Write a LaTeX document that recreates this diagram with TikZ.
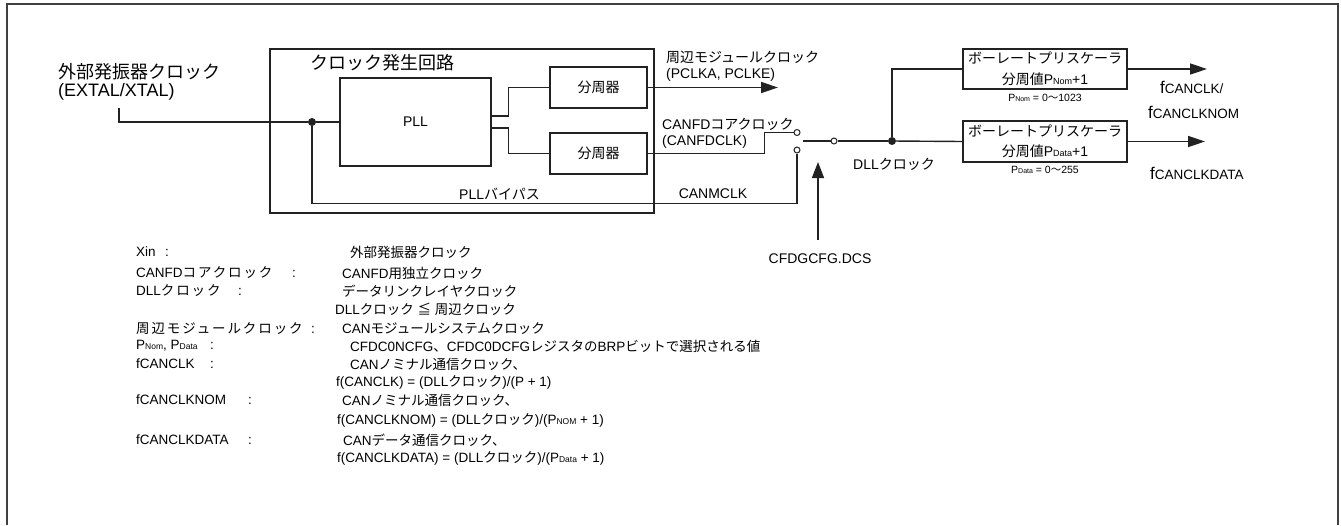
\documentclass[tikz,border=0pt]{standalone}
\usepackage{fontspec}
\setmainfont{Liberation Sans}
\newfontfamily\jpnormfont{Noto Sans CJK JP}
\newfontfamily\jpwidefont[LetterSpace=14]{Noto Sans CJK JP}
\newif\ifwidejp
\newcommand\jpfont{\ifwidejp\jpwidefont\else\jpnormfont\fi}
\usetikzlibrary{arrows.meta}
\makeatletter
\newXeTeXintercharclass\JPclass
\def\setjprange#1#2{\count@=#1\relax\loop\XeTeXcharclass\count@=\JPclass\relax\ifnum\count@<#2\advance\count@\@ne\repeat}
\setjprange{"3000}{"30FF}
\setjprange{"4E00}{"9FFF}
\setjprange{"FF00}{"FFEF}
\XeTeXcharclass"2266=\JPclass
\XeTeXinterchartoks 0 \JPclass={\jpfont}
\XeTeXinterchartoks 4095 \JPclass={\jpfont}
\XeTeXinterchartoks \JPclass 0={\rmfamily}
\XeTeXinterchartoks \JPclass 4095={\rmfamily}
\makeatother
\XeTeXinterchartokenstate=1
\definecolor{ln}{HTML}{222222}
\definecolor{frm}{HTML}{404040}
\newcommand\smtxt[2]{{\fontsize{#1}{#1}\selectfont #2}}
\tikzset{
  lbl/.style={inner sep=0pt, font=\fontsize{14}{16}\selectfont},
  big/.style={inner sep=0pt, anchor=west, font=\fontsize{18}{20}\selectfont},
  leg/.style={inner sep=0pt, anchor=west, font=\fontsize{13.5}{16}\selectfont},
  legk/.style={leg, font=\fontsize{13.5}{16}\selectfont\widejptrue},
  blk/.style={draw=ln, line width=1.4pt, inner sep=0pt},
  wire/.style={draw=ln, line width=1.4pt},
  arr/.style={wire, -{Triangle[length=17pt,width=11pt]}},
  dotn/.style={circle, fill=ln, inner sep=0pt, minimum size=8pt},
  contact/.style={circle, draw=ln, fill=white, line width=1pt, inner sep=0pt, minimum size=6pt},
  fbig/.style={inner sep=0pt, anchor=west},
}
\newcommand\fsub[1]{{\fontsize{17}{17}\selectfont f}{\fontsize{13.5}{14}\selectfont #1}}
\begin{document}
\begin{tikzpicture}[x=1pt,y=-1pt]
\useasboundingbox (0,0) rectangle (1341,525);
\draw[frm, line width=2pt] (7,525) -- (7,4) -- (1338,4) -- (1338,525);

% input label
\node[big] (ext1) at (58,72) {外部発振器クロック};
\node[big] (ext2) at (58,92) {(EXTAL/XTAL)};
\coordinate (extin) at (119,108);

% clock generator
\node[blk, minimum width=384pt, minimum height=164pt] (cg) at (462,131) {};
\node[big] (cgt) at (310,63) {クロック発生回路};
\node[blk, lbl, minimum width=151pt, minimum height=88pt] (pll) at (415.5,122) {PLL};
\node[blk, lbl, minimum width=97pt, minimum height=41pt] (div1) at (598.5,87.5) {分周器};
\node[blk, lbl, minimum width=97pt, minimum height=41pt] (div2) at (598.5,153.5) {分周器};
\node[dotn] (dot1) at (312,122) {};

\draw[wire] (extin) |- (dot1) -- (pll.west);
\draw[wire] ([yshift=6pt]pll.east) -| ([xshift=-41pt]div1.west) -- (div1.west);
\draw[wire] ([yshift=-6pt]pll.east) -| ([xshift=-41pt]div2.west) -- (div2.west);

% peripheral clock
\coordinate (pclkend) at (778,87.5);
\draw[arr] (div1.east) -- (pclkend);
\node[lbl, anchor=west] (pc1) at (666,57) {周辺モジュールクロック};
\node[lbl, anchor=west] (pc2) at (666,75) {(PCLKA, PCLKE)};

% switch
\node[contact] (sw1) at (797,132.5) {};
\node[contact] (sw2) at (797,150) {};
\node[contact] (sw3) at (834,141) {};
\coordinate (swc) at (803,141);
\node[dotn] (dot2) at (892,141) {};

\draw[wire] (div2.east) -| ([xshift=-29pt]sw1.west) -- (sw1.west);
\draw[wire] (dot1) |- ([yshift=-50pt]sw2.south) -- (sw2.south);
\draw[wire] (swc) -- (sw3.west);
\draw[wire] (sw3.east) -- (dot2);

\node[lbl, anchor=west] (cf1) at (662,124) {CANFDコアクロック};
\node[lbl, anchor=west] (cf2) at (662,142) {(CANFDCLK)};
\node[lbl, anchor=west] (byp) at (459,194) {PLLバイパス};
\node[lbl] (mclk) at (713,194) {CANMCLK};
\node[lbl, anchor=west] (dll) at (853,164) {DLLクロック};

% DCS select
\node[lbl] (dcs) at (820,259) {CFDGCFG.DCS};
\coordinate (dcsfoot) at (818,240);
\coordinate (dcstip) at (818,162);
\draw[wire, -{Triangle[length=16pt,width=12pt]}] (dcsfoot) -- (dcstip);

% baud rate prescalers
\node[blk, lbl, align=center, minimum width=164pt, minimum height=40pt, font=\fontsize{14}{21}\selectfont] (brp1) at (1045,69)
  {ボーレートプリスケーラ\\分周値P\smtxt{9}{Nom}+1};
\node[blk, lbl, align=center, minimum width=164pt, minimum height=41pt, font=\fontsize{14}{19.5}\selectfont] (brp2) at (1045,141.5)
  {ボーレートプリスケーラ\\分周値P\smtxt{9}{Data}+1};
\node[inner sep=0pt, font=\fontsize{10.5}{12}\selectfont] (pn) at (1045,98) {P\smtxt{7}{Nom} = 0〜1023};
\node[inner sep=0pt, font=\fontsize{10.5}{12}\selectfont] (pd) at (1045,170) {P\smtxt{7}{Data} = 0〜255};

\draw[wire] (dot2) -- (brp2.west);
\draw[wire] (dot2) |- (brp1.west);
\coordinate (o1) at (1207,69);
\coordinate (o2) at (1205,141.5);
\draw[arr] (brp1.east) -- (o1);
\draw[arr] (brp2.east) -- (o2);

\node[fbig] (f1) at (1160,87) {\fsub{CANCLK/}};
\node[fbig] (f2) at (1148,112) {\fsub{CANCLKNOM}};
\node[fbig] (f3) at (1150,173) {\fsub{CANCLKDATA}};

% legend
\node[legk] (k1) at (136,252) {\makebox[29pt][l]{Xin}:};
\node[legk] (k2) at (136,273) {\makebox[156pt][l]{CANFDコアクロック}:};
\node[legk] (k3) at (136,291) {\makebox[102pt][l]{DLLクロック}:};
\node[legk] (k5) at (136,329) {\makebox[175pt][l]{周辺モジュールクロック}:};
\node[legk] (k6) at (136,346) {\makebox[74pt][l]{P\smtxt{8.5}{Nom}, P\smtxt{8.5}{Data}}:};
\node[legk] (k7) at (136,364) {\makebox[74pt][l]{fCANCLK}:};
\node[legk] (k9) at (136,400) {\makebox[112pt][l]{fCANCLKNOM}:};
\node[legk] (k11) at (136,440) {\makebox[112pt][l]{fCANCLKDATA}:};

\node[leg] (v1) at (350,252) {外部発振器クロック};
\node[leg] (v2) at (342,273) {CANFD用独立クロック};
\node[leg] (v3) at (342,291) {データリンクレイヤクロック};
\node[leg] (v4) at (335,309) {DLLクロック ≦ 周辺クロック};
\node[leg] (v5) at (342,329) {CANモジュールシステムクロック};
\node[leg] (v6) at (350,346) {CFDC0NCFG、CFDC0DCFGレジスタのBRPビットで選択される値};
\node[leg] (v7) at (350,364) {CANノミナル通信クロック、};
\node[leg] (v8) at (336,382) {f(CANCLK) = (DLLクロック)/(P + 1)};
\node[leg] (v9) at (342,400) {CANノミナル通信クロック、};
\node[leg] (v10) at (337,420) {f(CANCLKNOM) = (DLLクロック)/(P\smtxt{8.5}{NOM} + 1)};
\node[leg] (v11) at (343,440) {CANデータ通信クロック、};
\node[leg] (v12) at (337,458) {f(CANCLKDATA) = (DLLクロック)/(P\smtxt{8.5}{Data} + 1)};
\end{tikzpicture}
\end{document}
